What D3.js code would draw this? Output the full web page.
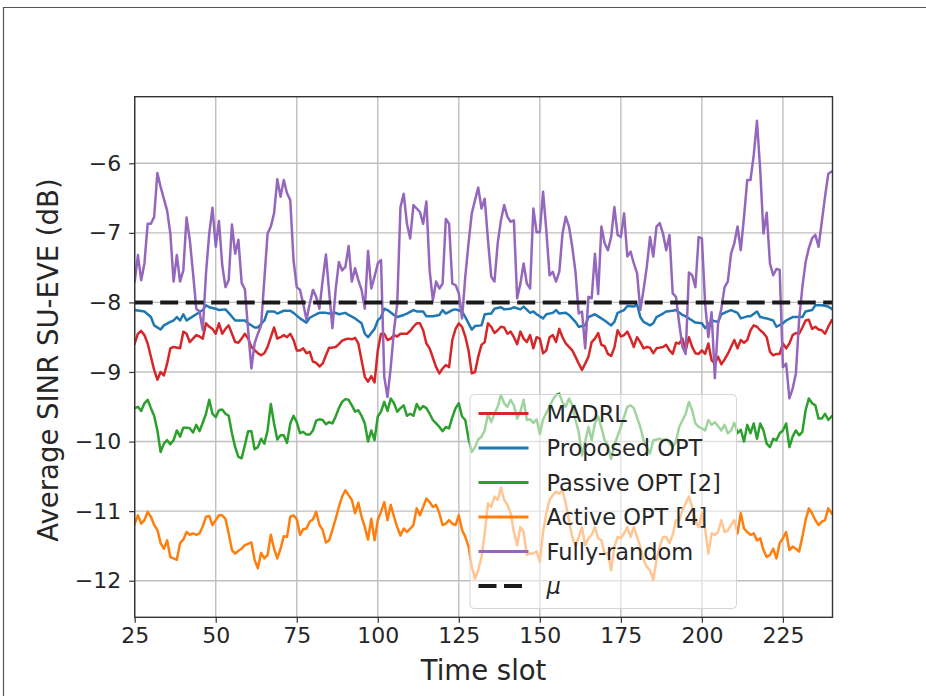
<!DOCTYPE html>
<html>
<head>
<meta charset="utf-8">
<script src="https://cdn.jsdelivr.net/npm/d3@7"></script>
<style>
  html, body { margin: 0; padding: 0; background: #fff; }
  svg { display: block; font-family: "DejaVu Sans", sans-serif; }
</style>
</head>
<body>
<svg id="chart" width="926" height="696"></svg>
<script>
// Average SINR at the eavesdropper per time slot, one [slot, dB] array per scheme
const madrl = [[25,-8.59],[26,-8.45],[27,-8.41],[28,-8.47],[29,-8.59],[30,-8.78],[31,-8.97],[32,-9.11],[33,-9.00],[34,-9.05],[35,-8.88],[36,-8.66],[37,-8.64],[39,-8.66],[40,-8.42],[41,-8.45],[42,-8.57],[43,-8.52],[44,-8.47],[45,-8.49],[46,-8.52],[47,-8.30],[48,-8.35],[49,-8.38],[50,-8.45],[51,-8.30],[52,-8.45],[53,-8.38],[54,-8.33],[55,-8.45],[56,-8.57],[57,-8.58],[58,-8.52],[59,-8.45],[60,-8.52],[61,-8.64],[63,-8.73],[64,-8.76],[65,-8.73],[66,-8.64],[67,-8.50],[68,-8.36],[69,-8.52],[70,-8.50],[71,-8.47],[72,-8.50],[73,-8.45],[74,-8.54],[75,-8.69],[76,-8.69],[77,-8.66],[78,-8.73],[79,-8.71],[80,-8.85],[81,-8.87],[82,-8.92],[83,-8.88],[84,-8.76],[85,-8.65],[86,-8.65],[87,-8.64],[88,-8.60],[89,-8.55],[90,-8.53],[91,-8.52],[92,-8.53],[93,-8.51],[94,-8.59],[95,-8.83],[96,-9.07],[97,-9.14],[98,-9.06],[99,-9.15],[100,-8.69],[101,-8.45],[102,-8.45],[103,-8.54],[104,-8.52],[105,-8.47],[106,-8.49],[107,-8.45],[108,-8.45],[109,-8.45],[110,-8.41],[111,-8.35],[112,-8.30],[113,-8.30],[114,-8.40],[115,-8.59],[116,-8.66],[118,-8.93],[119,-9.02],[120,-8.95],[121,-8.90],[122,-8.93],[123,-8.54],[124,-8.38],[125,-8.30],[126,-8.35],[127,-8.49],[128,-8.69],[129,-9.02],[130,-9.00],[131,-8.78],[132,-8.61],[133,-8.57],[134,-8.30],[135,-8.35],[136,-8.44],[137,-8.40],[138,-8.35],[139,-8.36],[140,-8.45],[141,-8.42],[142,-8.50],[143,-8.60],[144,-8.42],[145,-8.52],[146,-8.57],[147,-8.47],[148,-8.66],[149,-8.50],[150,-8.52],[151,-8.73],[152,-8.69],[153,-8.50],[154,-8.47],[155,-8.57],[156,-8.38],[157,-8.50],[158,-8.59],[159,-8.64],[160,-8.69],[161,-8.78],[162,-8.88],[163,-8.97],[164,-8.88],[165,-8.78],[166,-8.57],[167,-8.52],[168,-8.44],[169,-8.61],[170,-8.63],[171,-8.74],[172,-8.77],[173,-8.65],[174,-8.40],[175,-8.49],[176,-8.47],[177,-8.42],[178,-8.52],[179,-8.64],[180,-8.50],[181,-8.57],[182,-8.66],[183,-8.64],[184,-8.65],[185,-8.73],[186,-8.66],[187,-8.65],[188,-8.64],[189,-8.61],[190,-8.69],[191,-8.74],[192,-8.58],[193,-8.59],[194,-8.52],[195,-8.69],[196,-8.50],[197,-8.64],[198,-8.73],[199,-8.74],[200,-8.69],[201,-8.74],[202,-8.59],[203,-8.83],[204,-8.88],[205,-8.78],[206,-8.89],[207,-8.82],[208,-8.74],[209,-8.64],[210,-8.54],[211,-8.66],[212,-8.54],[213,-8.58],[214,-8.54],[215,-8.40],[216,-8.33],[217,-8.35],[218,-8.40],[219,-8.44],[220,-8.50],[221,-8.71],[222,-8.76],[223,-8.74],[224,-8.74],[225,-8.59],[226,-8.66],[227,-8.59],[228,-8.47],[229,-8.44],[230,-8.45],[231,-8.36],[232,-8.26],[233,-8.25],[234,-8.38],[235,-8.35],[236,-8.39],[237,-8.40],[238,-8.45],[239,-8.35],[240,-8.26]];

const proposedOpt = [[25,-8.11],[28,-8.13],[30,-8.21],[31,-8.33],[33,-8.39],[34,-8.33],[36,-8.28],[37,-8.26],[38,-8.21],[39,-8.26],[40,-8.17],[41,-8.26],[42,-8.23],[44,-8.17],[46,-8.11],[47,-8.04],[48,-8.07],[50,-8.09],[51,-8.11],[53,-8.10],[54,-8.15],[56,-8.26],[57,-8.26],[59,-8.26],[60,-8.30],[62,-8.36],[63,-8.36],[65,-8.26],[66,-8.13],[68,-8.13],[69,-8.16],[71,-8.12],[73,-8.12],[74,-8.15],[76,-8.23],[78,-8.29],[79,-8.22],[81,-8.17],[82,-8.15],[84,-8.15],[85,-8.16],[87,-8.15],[88,-8.17],[90,-8.15],[91,-8.18],[93,-8.23],[95,-8.30],[96,-8.45],[97,-8.50],[99,-8.38],[100,-8.26],[101,-8.21],[102,-8.09],[103,-8.11],[105,-8.18],[106,-8.21],[108,-8.18],[109,-8.16],[111,-8.11],[112,-8.13],[114,-8.13],[115,-8.20],[117,-8.20],[119,-8.18],[120,-8.11],[121,-8.16],[123,-8.11],[124,-8.10],[126,-8.13],[127,-8.21],[129,-8.39],[130,-8.34],[132,-8.33],[133,-8.17],[135,-8.16],[136,-8.09],[138,-8.07],[139,-8.10],[141,-8.09],[142,-8.07],[144,-8.10],[145,-8.06],[147,-8.15],[148,-8.13],[149,-8.17],[151,-8.23],[152,-8.17],[154,-8.15],[155,-8.11],[156,-8.16],[158,-8.15],[159,-8.18],[161,-8.28],[162,-8.35],[164,-8.33],[165,-8.21],[167,-8.17],[168,-8.20],[170,-8.26],[172,-8.33],[173,-8.28],[174,-8.15],[176,-8.11],[177,-8.05],[179,-8.06],[180,-8.03],[181,-8.21],[182,-8.28],[184,-8.33],[185,-8.30],[186,-8.21],[188,-8.16],[189,-8.13],[191,-8.12],[192,-8.11],[194,-8.18],[195,-8.20],[197,-8.26],[198,-8.29],[200,-8.30],[201,-8.37],[203,-8.26],[205,-8.28],[206,-8.17],[208,-8.13],[209,-8.11],[211,-8.15],[212,-8.23],[214,-8.20],[215,-8.20],[217,-8.13],[218,-8.21],[220,-8.23],[222,-8.26],[223,-8.35],[225,-8.30],[226,-8.26],[228,-8.21],[229,-8.21],[231,-8.21],[232,-8.13],[234,-8.11],[235,-8.04],[237,-8.04],[239,-8.06],[240,-8.09]];

const passiveOpt = [[25,-9.52],[26,-9.50],[27,-9.56],[28,-9.45],[29,-9.40],[30,-9.52],[31,-9.63],[32,-9.84],[33,-10.15],[34,-10.03],[35,-9.98],[36,-10.04],[37,-9.98],[38,-9.84],[39,-9.93],[40,-9.80],[41,-9.80],[42,-9.81],[43,-9.87],[44,-9.76],[45,-9.85],[46,-9.73],[47,-9.60],[48,-9.40],[49,-9.60],[50,-9.65],[51,-9.55],[52,-9.54],[53,-9.60],[54,-9.63],[55,-9.88],[56,-10.08],[57,-10.22],[58,-10.24],[59,-10.05],[60,-9.85],[61,-9.85],[62,-10.11],[63,-10.08],[64,-9.96],[65,-10.03],[66,-9.84],[67,-9.46],[68,-9.74],[69,-9.97],[70,-9.91],[71,-9.91],[72,-10.02],[73,-9.74],[74,-9.63],[75,-9.72],[76,-9.88],[77,-9.86],[78,-9.90],[79,-9.90],[80,-9.84],[81,-9.70],[82,-9.68],[83,-9.69],[84,-9.75],[85,-9.72],[86,-9.74],[87,-9.64],[88,-9.52],[89,-9.43],[90,-9.39],[91,-9.40],[92,-9.48],[93,-9.57],[94,-9.55],[95,-9.63],[96,-9.74],[97,-10.00],[98,-9.84],[99,-9.98],[100,-9.64],[101,-9.57],[102,-9.43],[103,-9.56],[104,-9.38],[105,-9.45],[106,-9.57],[107,-9.52],[108,-9.48],[109,-9.63],[110,-9.60],[111,-9.63],[112,-9.46],[113,-9.54],[114,-9.49],[115,-9.52],[116,-9.60],[117,-9.69],[118,-9.74],[119,-9.79],[120,-9.85],[121,-9.79],[122,-9.81],[123,-9.65],[124,-9.52],[125,-9.45],[126,-9.64],[127,-9.69],[128,-9.96],[129,-10.15],[130,-10.08],[131,-9.97],[132,-9.93],[133,-9.84],[134,-9.60],[135,-9.72],[136,-9.60],[137,-9.50],[138,-9.33],[139,-9.45],[140,-9.50],[141,-9.40],[142,-9.48],[143,-9.67],[144,-9.57],[145,-9.40],[146,-9.69],[147,-9.68],[148,-9.73],[149,-9.68],[150,-9.89],[151,-9.68],[152,-9.59],[153,-9.49],[154,-9.40],[155,-9.33],[156,-9.31],[157,-9.44],[158,-9.50],[159,-9.38],[160,-9.48],[161,-9.69],[162,-9.86],[163,-10.20],[164,-10.00],[165,-9.79],[166,-9.98],[167,-9.74],[168,-9.64],[169,-9.80],[170,-9.98],[171,-10.05],[172,-10.25],[173,-10.05],[175,-9.79],[177,-9.50],[178,-9.48],[179,-9.52],[181,-9.79],[182,-9.98],[184,-10.17],[185,-9.98],[187,-9.96],[188,-9.98],[189,-9.96],[191,-10.08],[192,-10.00],[193,-9.79],[195,-9.60],[196,-9.43],[197,-9.55],[198,-9.74],[199,-9.79],[200,-9.81],[201,-9.84],[202,-9.69],[203,-9.76],[204,-9.72],[206,-9.84],[207,-9.76],[208,-9.88],[209,-9.84],[210,-9.73],[211,-9.88],[212,-9.83],[213,-10.00],[214,-9.76],[215,-9.88],[216,-9.74],[217,-9.96],[218,-9.74],[219,-9.84],[220,-10.03],[221,-10.08],[222,-9.96],[223,-9.98],[224,-9.88],[225,-9.84],[226,-9.74],[227,-10.08],[228,-9.93],[229,-9.84],[230,-9.91],[231,-9.86],[232,-9.55],[233,-9.38],[234,-9.45],[235,-9.48],[236,-9.67],[237,-9.67],[238,-9.60],[239,-9.69],[240,-9.64]];

const activeOpt = [[25,-11.18],[26,-11.06],[27,-11.18],[28,-11.13],[29,-11.01],[30,-11.08],[31,-11.20],[32,-11.27],[33,-11.46],[34,-11.54],[35,-11.42],[36,-11.66],[37,-11.68],[38,-11.70],[39,-11.46],[40,-11.41],[41,-11.30],[42,-11.34],[43,-11.32],[44,-11.34],[45,-11.32],[46,-11.22],[47,-11.08],[48,-11.07],[49,-11.20],[50,-11.13],[51,-11.06],[52,-11.06],[53,-11.11],[54,-11.32],[55,-11.56],[56,-11.61],[57,-11.57],[58,-11.54],[59,-11.49],[61,-11.45],[62,-11.70],[63,-11.82],[64,-11.60],[65,-11.68],[66,-11.63],[67,-11.34],[68,-11.54],[69,-11.68],[70,-11.54],[71,-11.36],[72,-11.37],[73,-11.08],[74,-11.06],[75,-11.11],[76,-11.34],[77,-11.26],[78,-11.25],[79,-11.15],[80,-11.12],[81,-11.01],[82,-11.20],[83,-11.27],[84,-11.45],[85,-11.42],[86,-11.27],[87,-11.11],[88,-10.94],[89,-10.79],[90,-10.70],[91,-10.77],[92,-10.84],[93,-11.03],[94,-10.88],[95,-11.08],[96,-11.23],[97,-11.41],[98,-11.11],[99,-11.42],[100,-11.13],[101,-11.01],[102,-10.87],[103,-11.13],[104,-10.91],[105,-11.08],[106,-11.23],[107,-11.35],[108,-11.25],[109,-11.30],[110,-11.25],[111,-11.20],[112,-10.96],[113,-11.06],[114,-10.94],[115,-10.82],[116,-10.87],[117,-10.94],[118,-10.91],[119,-11.03],[120,-11.20],[121,-11.18],[122,-11.13],[123,-11.18],[124,-11.20],[125,-11.06],[126,-11.27],[127,-11.37],[128,-11.51],[129,-11.80],[130,-11.97],[131,-11.85],[132,-11.66],[133,-11.32],[134,-10.89],[135,-10.94],[136,-10.79],[137,-10.84],[138,-10.66],[139,-10.84],[140,-10.91],[141,-11.03],[142,-11.30],[143,-11.49],[144,-11.23],[145,-11.30],[146,-11.63],[147,-11.61],[148,-11.61],[149,-11.58],[150,-11.73],[151,-11.30],[152,-11.03],[153,-10.84],[154,-10.77],[155,-10.72],[156,-10.75],[157,-10.70],[158,-10.89],[159,-11.13],[160,-11.37],[161,-11.51],[162,-11.37],[163,-11.23],[164,-11.49],[165,-11.39],[166,-11.34],[167,-11.23],[168,-11.39],[169,-11.42],[170,-11.61],[171,-11.60],[172,-11.85],[173,-11.51],[174,-11.37],[175,-11.39],[176,-11.32],[177,-11.23],[178,-11.37],[179,-11.23],[181,-11.51],[182,-11.70],[183,-11.80],[184,-11.85],[185,-11.99],[186,-11.70],[187,-11.51],[188,-11.37],[189,-11.37],[190,-11.46],[191,-11.34],[192,-11.13],[193,-11.13],[194,-10.99],[195,-10.89],[196,-10.79],[197,-10.94],[198,-11.13],[199,-11.23],[200,-11.03],[201,-11.25],[202,-11.61],[203,-11.32],[204,-11.34],[205,-11.30],[206,-11.13],[207,-11.30],[208,-11.28],[209,-11.20],[210,-11.13],[211,-11.32],[212,-11.03],[213,-11.25],[214,-11.30],[215,-11.34],[216,-11.32],[217,-11.42],[218,-11.39],[219,-11.56],[220,-11.66],[221,-11.63],[222,-11.54],[223,-11.68],[224,-11.46],[225,-11.39],[226,-11.30],[227,-11.56],[228,-11.51],[229,-11.54],[230,-11.58],[231,-11.37],[232,-11.13],[233,-10.96],[234,-11.03],[235,-11.13],[236,-11.20],[237,-11.15],[238,-11.13],[239,-10.96],[240,-11.03]];

const fullyRandom = [[25,-7.70],[26,-7.32],[27,-7.68],[28,-7.44],[29,-6.87],[30,-6.87],[31,-6.77],[32,-6.14],[33,-6.34],[35,-6.68],[36,-7.01],[37,-7.70],[38,-7.32],[39,-7.70],[40,-7.54],[41,-6.78],[42,-7.10],[43,-7.58],[44,-8.09],[45,-8.13],[46,-8.40],[47,-7.58],[48,-7.01],[49,-6.64],[50,-7.20],[51,-6.83],[52,-7.46],[53,-7.78],[54,-7.68],[55,-6.88],[56,-7.30],[57,-7.10],[58,-7.72],[59,-7.81],[60,-8.40],[61,-8.95],[62,-8.59],[63,-8.45],[64,-8.33],[66,-7.01],[67,-6.91],[68,-6.72],[69,-6.23],[70,-6.48],[71,-6.24],[72,-6.43],[73,-6.53],[74,-7.39],[75,-7.78],[76,-7.82],[77,-8.02],[78,-8.25],[79,-8.02],[80,-7.82],[81,-7.92],[82,-8.09],[83,-7.68],[84,-7.31],[85,-7.85],[86,-8.37],[87,-7.82],[88,-7.42],[89,-7.54],[90,-7.49],[91,-7.19],[92,-7.70],[93,-7.51],[94,-7.68],[95,-7.82],[96,-8.09],[97,-7.26],[98,-7.80],[99,-7.63],[100,-7.44],[101,-7.39],[102,-9.07],[103,-9.36],[104,-8.93],[105,-8.40],[106,-8.02],[107,-6.63],[108,-6.44],[109,-6.87],[110,-7.08],[111,-6.60],[112,-6.65],[113,-6.70],[114,-6.87],[115,-6.55],[116,-7.54],[117,-7.97],[118,-7.70],[119,-7.80],[120,-7.73],[121,-6.80],[122,-6.87],[123,-7.73],[124,-7.75],[125,-7.87],[126,-8.23],[127,-7.63],[128,-7.15],[129,-6.72],[130,-6.53],[131,-6.35],[132,-6.65],[133,-6.51],[134,-7.10],[135,-7.63],[136,-7.70],[137,-7.15],[138,-6.82],[139,-6.60],[140,-6.77],[141,-6.84],[142,-6.82],[143,-7.94],[144,-7.73],[145,-7.44],[146,-7.73],[147,-7.80],[148,-6.65],[149,-6.99],[150,-6.99],[151,-6.41],[152,-6.96],[153,-7.61],[154,-7.56],[155,-7.70],[156,-7.56],[157,-7.01],[158,-6.77],[159,-6.91],[160,-7.20],[161,-7.56],[162,-8.16],[163,-8.13],[164,-8.66],[165,-7.92],[166,-7.94],[167,-7.30],[168,-7.88],[169,-6.91],[170,-7.15],[171,-7.25],[172,-7.06],[173,-6.63],[174,-7.03],[175,-7.06],[176,-6.72],[177,-7.34],[178,-7.27],[179,-7.44],[180,-7.58],[181,-8.11],[182,-7.82],[183,-7.49],[184,-7.06],[185,-7.34],[186,-6.91],[187,-6.86],[188,-7.01],[189,-7.25],[190,-7.03],[191,-7.87],[192,-7.92],[193,-8.30],[194,-8.64],[195,-8.74],[196,-7.57],[197,-7.61],[198,-7.78],[199,-7.06],[200,-7.08],[201,-8.02],[202,-8.50],[203,-8.14],[204,-9.09],[205,-8.30],[206,-8.09],[207,-7.78],[208,-7.70],[209,-7.30],[210,-7.15],[211,-6.91],[212,-7.25],[213,-6.77],[214,-6.24],[215,-6.24],[216,-5.88],[217,-5.39],[218,-6.10],[219,-7.01],[220,-6.71],[221,-7.44],[222,-7.61],[223,-7.52],[224,-7.53],[225,-8.93],[226,-8.88],[227,-9.38],[228,-9.24],[229,-9.02],[230,-8.25],[231,-7.78],[232,-7.42],[233,-7.22],[234,-7.08],[235,-7.03],[236,-7.20],[237,-6.84],[238,-6.48],[239,-6.15],[240,-6.12]];

// Threshold μ (dB)
const muLevel = -8;

const slotTicks = [25, 50, 75, 100, 125, 150, 175, 200, 225];
const sinrTicks = [-12, -11, -10, -9, -8, -7, -6];
const slotRange = [25, 240.3];
const sinrRange = [-12.526, -5.043];

const seriesNames = ["MADRL", "Proposed OPT", "Passive OPT [2]", "Active OPT [4]", "Fully-random"];
const seriesColors = ["#d62728", "#1f77b4", "#2ca02c", "#ff7f0e", "#9467bd"];
const seriesData = [madrl, proposedOpt, passiveOpt, activeOpt, fullyRandom];

const svg = d3.select("#chart");

// figure frame
svg.append("path")
  .attr("d", "M3.5,700 L3.5,7.5 L930,7.5")
  .attr("fill", "none")
  .attr("stroke", "#555")
  .attr("stroke-width", 1.2);

const plot = { left: 134.7, right: 832.5, top: 96.7, bottom: 617.3 };

const x = d3.scaleLinear().domain(slotRange).range([plot.left, plot.right]);
const y = d3.scaleLinear().domain(sinrRange).range([plot.bottom, plot.top]);

// grid
const grid = svg.append("g").attr("class", "grid");
grid.selectAll("line.gx").data(slotTicks).join("line")
  .attr("x1", d => x(d)).attr("x2", d => x(d))
  .attr("y1", plot.top).attr("y2", plot.bottom)
  .attr("stroke", "#bfbfbf").attr("stroke-width", 1.4);
grid.selectAll("line.gy").data(sinrTicks).join("line")
  .attr("y1", d => y(d)).attr("y2", d => y(d))
  .attr("x1", plot.left).attr("x2", plot.right)
  .attr("stroke", "#bfbfbf").attr("stroke-width", 1.4);

// clip to the axes box
svg.append("clipPath").attr("id", "plotClip")
  .append("rect")
  .attr("x", plot.left).attr("y", plot.top)
  .attr("width", plot.right - plot.left).attr("height", plot.bottom - plot.top);

const line = d3.line().x(d => x(d[0])).y(d => y(d[1]));

const lines = svg.append("g").attr("clip-path", "url(#plotClip)");
seriesData.forEach((data, i) => {
  lines.append("path")
    .datum(data)
    .attr("d", line)
    .attr("fill", "none")
    .attr("stroke", seriesColors[i])
    .attr("stroke-width", 2.5)
    .attr("stroke-linejoin", "round")
    .attr("stroke-linecap", "square");
});

lines.append("path")
  .datum(slotRange.map(s => [s, muLevel]))
  .attr("d", line)
  .attr("fill", "none")
  .attr("stroke", "#1a1a1a")
  .attr("stroke-width", 4)
  .attr("stroke-dasharray", "18,7.5");

// axes
const xAxis = d3.axisBottom(x).tickValues(slotTicks).tickSize(5.5).tickPadding(5)
  .tickFormat(d3.format("d"));
const yAxis = d3.axisLeft(y).tickValues(sinrTicks).tickSize(5.5).tickPadding(8)
  .tickFormat(d => d3.format("d")(d).replace("-", "\u2212"));

const gx = svg.append("g").attr("transform", `translate(0,${plot.bottom})`).call(xAxis);
const gy = svg.append("g").attr("transform", `translate(${plot.left},0)`).call(yAxis);
[gx, gy].forEach(g => {
  g.select(".domain").remove();
  g.selectAll(".tick line").attr("stroke", "#333").attr("stroke-width", 1.2);
  g.selectAll(".tick text")
    .attr("fill", "#262626")
    .style("font-size", "22px")
    .style("font-family", "'DejaVu Sans', sans-serif");
});

// spines
svg.append("rect")
  .attr("x", plot.left).attr("y", plot.top)
  .attr("width", plot.right - plot.left).attr("height", plot.bottom - plot.top)
  .attr("fill", "none").attr("stroke", "#333").attr("stroke-width", 1.4);

// axis titles
svg.append("text")
  .attr("x", (plot.left + plot.right) / 2).attr("y", 680)
  .attr("text-anchor", "middle")
  .attr("fill", "#262626")
  .style("font-size", "27.5px")
  .text("Time slot");

svg.append("text")
  .attr("transform", `translate(58,${(plot.top + plot.bottom) / 2 + 3}) rotate(-90)`)
  .attr("text-anchor", "middle")
  .attr("fill", "#262626")
  .style("font-size", "27.5px")
  .text("Average SINR SU-EVE (dB)");

// legend
const legend = svg.append("g").attr("transform", "translate(470,394.5)");
legend.append("rect")
  .attr("width", 266.5).attr("height", 214)
  .attr("rx", 4).attr("ry", 4)
  .attr("fill", "#fff").attr("fill-opacity", 0.55)
  .attr("stroke", "#d6d6d6").attr("stroke-width", 1);

const legendItems = seriesNames.map((name, i) => ({ name, color: seriesColors[i], dash: null }))
  .concat([{ name: "\u03bc", color: "#1a1a1a", dash: "18,7.5", italic: true }]);

const rowStep = 34.5;
legendItems.forEach((item, i) => {
  const ly = 19 + i * rowStep;
  legend.append("line")
    .attr("x1", 8.5).attr("x2", 58.5)
    .attr("y1", ly).attr("y2", ly)
    .attr("stroke", item.color)
    .attr("stroke-width", item.dash ? 4 : 2.8)
    .attr("stroke-dasharray", item.dash);
  legend.append("text")
    .attr("x", 76.5).attr("y", ly + 8)
    .attr("fill", "#262626")
    .style("font-size", "22.5px")
    .style("font-style", item.italic ? "italic" : "normal")
    .text(item.name);
});
</script>
</body>
</html>
